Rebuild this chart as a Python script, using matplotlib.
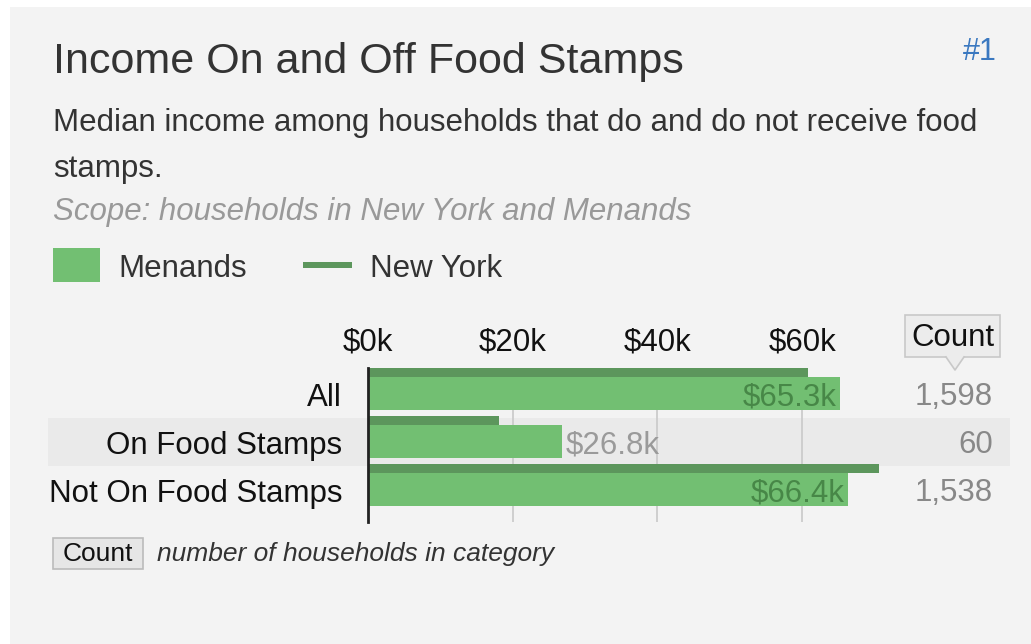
import matplotlib
matplotlib.use('Agg')
import matplotlib.pyplot as plt
from matplotlib.patches import Rectangle, Polygon
from matplotlib.transforms import blended_transform_factory
import numpy as np

plt.rcParams['font.family'] = ['Liberation Sans', 'DejaVu Sans']

# data
categories = ['All', 'On Food Stamps', 'Not On Food Stamps']
menands = [65.3, 26.8, 66.4]       # $k
new_york = [60.8, 18.1, 70.6]      # $k
counts = ['1,598', '60', '1,538']
ticks = [0, 20, 40, 60]
tick_labels = ['$0k', '$20k', '$40k', '$60k']

W, H = 1031, 644
BG = '#f3f3f3'
C_MEN = '#72bf72'
C_NY = '#5c965c'
FS = 22.5


def px(x, y):
    return x / W, 1 - y / H


fig = plt.figure(figsize=(W / 100, H / 100), dpi=100, facecolor='white')
fig.patches.append(Rectangle(px(10, 644), (W - 10) / W, (644 - 7) / H,
                             transform=fig.transFigure, facecolor=BG,
                             edgecolor='none', zorder=-10))

# header texts
fig.text(*px(53, 62), 'Income On and Off Food Stamps', fontsize=31,
         color='#333333', va='center', ha='left')
fig.text(*px(997, 52), '#1', fontsize=22, color='#3a78c0', va='center', ha='right')
fig.text(*px(53, 123), 'Median income among households that do and do not receive food',
         fontsize=FS, color='#333333', va='center')
fig.text(*px(53, 169), 'stamps.', fontsize=FS, color='#333333', va='center')
fig.text(*px(53, 212), 'Scope: households in New York and Menands', fontsize=FS,
         color='#999999', style='italic', va='center')

# legend
fig.patches.append(Rectangle(px(53, 282), 47 / W, 34 / H, transform=fig.transFigure,
                             facecolor=C_MEN, edgecolor='none'))
fig.text(*px(118, 269), 'Menands', fontsize=FS, color='#333333', va='center')
fig.patches.append(Rectangle(px(303, 268), 49 / W, 6 / H, transform=fig.transFigure,
                             facecolor=C_NY, edgecolor='none'))
fig.text(*px(370, 269), 'New York', fontsize=FS, color='#333333', va='center')

# chart axes
x0, x1, y0, y1 = 368, 1010, 368, 522
ax = fig.add_axes([x0 / W, 1 - y1 / H, (x1 - x0) / W, (y1 - y0) / H])
ax.set_facecolor('none')
k_per_px = 20 / 144.7
ax.set_xlim(0, (x1 - x0) * k_per_px)
row_px = 48
ax.set_ylim((y1 - y0) / row_px, 0)

ypos = np.arange(len(categories))
ny_h, men_h = 0.19, 0.69

# shaded band for middle row
trans = blended_transform_factory(fig.transFigure, ax.transData)
ax.add_patch(Rectangle((48 / W, 1.05), (1010 - 48) / W, 1.0, transform=trans,
                       facecolor='#eaeaea', edgecolor='none', clip_on=False, zorder=0))

for t in ticks[1:]:
    ax.axvline(t, color='#cccccc', lw=1.3, zorder=1)

ax.barh(ypos, new_york, height=ny_h, align='edge', color=C_NY, zorder=2)
ax.barh(ypos + ny_h, menands, height=men_h, align='edge', color=C_MEN, zorder=2)

for i, v in enumerate(menands):
    yc = i + ny_h + men_h / 2 + 0.07
    if v > 40:
        ax.text(v - 0.5, yc, f'${v}k', ha='right', va='center', fontsize=FS,
                color='#3d7a3d', alpha=0.8, zorder=3)
    else:
        ax.text(v + 0.5, yc, f'${v}k', ha='left', va='center', fontsize=FS,
                color='#9a9a9a', zorder=3)

ax.xaxis.tick_top()
ax.set_xticks(ticks)
ax.set_xticklabels(tick_labels)
ax.tick_params(axis='x', length=0, pad=7.5, labelsize=FS, labelcolor='#111111')
ax.set_yticks(ypos + 0.56)
ax.set_yticklabels(categories)
ax.tick_params(axis='y', length=0, pad=18.5, labelsize=FS, labelcolor='#111111')

for s in ['top', 'right', 'bottom']:
    ax.spines[s].set_visible(False)
ax.spines['left'].set_color('#222222')
ax.spines['left'].set_linewidth(2)
ax.spines['left'].set_zorder(4)

# counts column
cnt_trans = blended_transform_factory(fig.transFigure, ax.transData)
for i, c in enumerate(counts):
    ax.text(993 / W, i + 0.61, c, transform=cnt_trans, ha='right', va='center',
            fontsize=FS, color='#888888')

# "Count" header box with pointer
fig.patches.append(Rectangle(px(905, 357), 95 / W, 42 / H, transform=fig.transFigure,
                             facecolor='#ececec', edgecolor='#c8c8c8', lw=1.2))
fig.patches.append(Polygon([px(946, 356), px(964, 356), px(955, 370)],
                           closed=True, transform=fig.transFigure,
                           facecolor='#ececec', edgecolor='none'))
fig.lines.append(plt.Line2D([946 / W, 955 / W, 964 / W],
                            [1 - 357 / H, 1 - 370 / H, 1 - 357 / H],
                            transform=fig.transFigure, color='#c8c8c8', lw=1.2))
fig.text(*px(953, 338), 'Count', fontsize=FS, color='#111111', ha='center', va='center')

# footnote
fig.patches.append(Rectangle(px(53, 569), 90 / W, 31 / H, transform=fig.transFigure,
                             facecolor='#e6e6e6', edgecolor='#bbbbbb', lw=1.2))
fig.text(*px(98, 554), 'Count', fontsize=19, color='#111111', ha='center', va='center')
fig.text(*px(157, 554), 'number of households in category', fontsize=19,
         color='#333333', style='italic', va='center')

fig.savefig('out.png', dpi=100, facecolor=fig.get_facecolor())
